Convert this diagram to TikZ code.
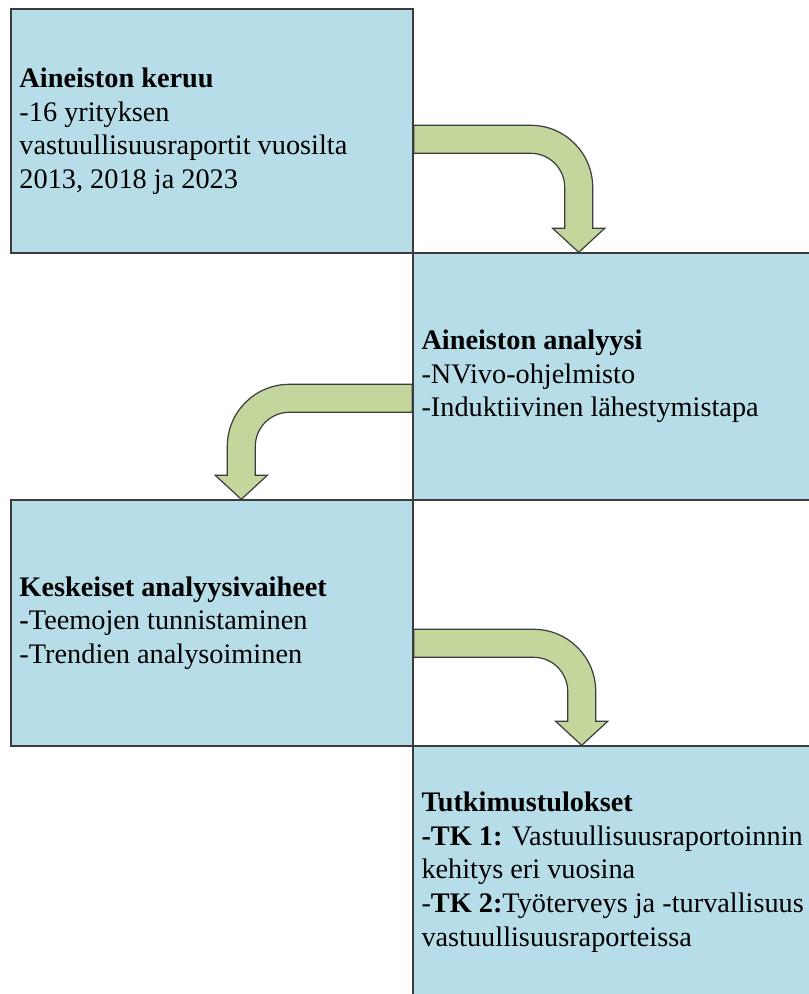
\documentclass[tikz,border=0pt]{standalone}
\usepackage{fontspec}
\setmainfont{Liberation Serif}
\usetikzlibrary{calc}
\definecolor{boxfill}{HTML}{B7DDE8}
\definecolor{arrfill}{HTML}{C3D69B}
\definecolor{edge}{HTML}{3C3C3C}
\newcommand\bentarr[4]{%
  \begin{scope}[shift={(#1)}, xscale=#4]
  \draw[bentarrow] (0,0) -- (#2,0)
    .. controls ({#2+34.24},0) and ({#2+62},27.76) .. ({#2+62},62)
    -- ({#2+62},{#3-24}) -- ({#2+74},{#3-24}) -- ({#2+48},#3)
    -- ({#2+22},{#3-24}) -- ({#2+34},{#3-24}) -- ({#2+34},62)
    .. controls ({#2+34},43.22) and ({#2+18.78},28) .. (#2,28)
    -- (0,28) -- cycle;
  \end{scope}}
\begin{document}
\begin{tikzpicture}[x=1pt,y=-1pt,
  stepbox/.style={draw=edge, line width=1.4pt, fill=boxfill, rectangle,
    inner sep=0pt, minimum width=402pt},
  boxtext/.style={anchor=west, align=left, inner sep=0pt, xshift=9pt,
    font=\fontsize{28.3}{33.6}\selectfont},
  bentarrow/.style={draw=edge, line width=1.2pt, fill=arrfill, line join=miter}]
\useasboundingbox (0,0) rectangle (809,994);
\fill[white] (0,0) rectangle (809,994);
\clip (0,0) rectangle (809,994);
\node[stepbox, minimum height=244pt] (b1) at (212,131) {};
\node[stepbox, minimum height=247pt] (b2) at (614,376.5) {};
\node[stepbox, minimum height=246pt] (b3) at (212,623) {};
\node[stepbox, minimum height=252pt] (b4) at (614,872) {};
\node[boxtext] (t1) at (b1.west) {\textbf{Aineiston keruu}\\-16 yrityksen\\vastuullisuusraportit vuosilta\\2013, 2018 ja 2023};
\node[boxtext] (t2) at (b2.west) {\textbf{Aineiston analyysi}\\-NVivo-ohjelmisto\\-Induktiivinen lähestymistapa};
\node[boxtext] (t3) at (b3.west) {\textbf{Keskeiset analyysivaiheet}\\\textbf{-}Teemojen tunnistaminen\\-Trendien analysoiminen};
\node[boxtext] (t4) at (b4.west) {\textbf{Tutkimustulokset}\\\textbf{-TK 1:} Vastuullisuusraportoinnin\\kehitys eri vuosina\\-\textbf{TK 2:}Työterveys ja -turvallisuus\\vastuullisuusraporteissa};
\coordinate (s1) at ($(b1.north east)+(0,117)$);
\coordinate (s2) at ($(b2.north west)+(0,132)$);
\coordinate (s3) at ($(b3.north east)+(0,130)$);
\bentarr{s1}{117}{127}{1}
\bentarr{s2}{123}{115}{-1}
\bentarr{s3}{120}{116}{1}
\end{tikzpicture}
\end{document}
